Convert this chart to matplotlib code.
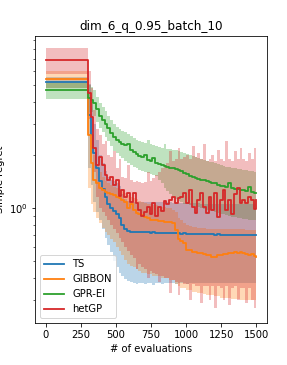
import matplotlib
matplotlib.use('Agg')
import matplotlib.pyplot as plt

# number of evaluations (initial design of 300, then batches)
evals = [0,
         300, 320, 340, 360, 380, 400, 420, 440, 460, 480,
         500, 520, 540, 560, 580, 600, 620, 640, 660, 680,
         700, 720, 740, 760, 780, 800, 820, 840, 860, 880,
         900, 920, 940, 960, 980, 1000, 1020, 1040, 1060, 1080,
         1100, 1120, 1140, 1160, 1180, 1200, 1220, 1240, 1260, 1280,
         1300, 1320, 1340, 1360, 1380, 1400, 1420, 1440, 1460, 1480,
         1500]

## TS
ts_mean = [5.2,
           3.4, 2.6, 2.05, 1.7, 1.42, 1.28, 1.15, 1.06, 1.0, 0.96,
           0.92, 0.88, 0.8, 0.76, 0.74, 0.73, 0.73, 0.73, 0.73, 0.73,
           0.73, 0.73, 0.725, 0.73, 0.725, 0.725, 0.725, 0.72, 0.725, 0.72,
           0.72, 0.72, 0.72, 0.715, 0.72, 0.715, 0.715, 0.715, 0.71, 0.715,
           0.71, 0.71, 0.71, 0.71, 0.71, 0.705, 0.71, 0.705, 0.705, 0.705,
           0.705, 0.705, 0.7, 0.705, 0.7, 0.7, 0.7, 0.7, 0.7, 0.7,
           0.7]
ts_lo = [4.8,
         1.7, 1.35, 1.08, 0.95, 0.85, 0.76, 0.68, 0.62, 0.56, 0.5,
         0.46, 0.43, 0.41, 0.395, 0.385, 0.38, 0.375, 0.37, 0.375, 0.375,
         0.37, 0.375, 0.375, 0.365, 0.375, 0.375, 0.37, 0.375, 0.375, 0.375,
         0.375, 0.37, 0.375, 0.375, 0.375, 0.37, 0.375, 0.375, 0.375, 0.375,
         0.375, 0.375, 0.375, 0.375, 0.375, 0.375, 0.375, 0.375, 0.375, 0.375,
         0.375, 0.375, 0.375, 0.375, 0.375, 0.375, 0.375, 0.375, 0.375, 0.375,
         0.375]
ts_hi = [5.6,
         5.1, 3.9, 3.0, 2.45, 2.0, 1.8, 1.62, 1.5, 1.44, 1.42,
         1.38, 1.33, 1.2, 1.13, 1.1, 1.08, 1.08, 1.08, 1.08, 1.08,
         1.08, 1.08, 1.08, 1.08, 1.08, 1.08, 1.08, 1.08, 1.08, 1.08,
         1.07, 1.07, 1.07, 1.07, 1.07, 1.07, 1.07, 1.07, 1.07, 1.07,
         1.06, 1.06, 1.06, 1.06, 1.06, 1.06, 1.06, 1.06, 1.06, 1.06,
         1.05, 1.05, 1.05, 1.05, 1.05, 1.05, 1.05, 1.05, 1.05, 1.05,
         1.05]

## GIBBON
gibbon_mean = [5.41,
               2.6, 1.8, 1.45, 1.38, 1.3, 1.27, 1.24, 1.22, 1.2, 1.18,
               1.16, 1.14, 1.11, 1.08, 1.0, 1.06, 0.97, 0.94, 0.93, 0.91,
               0.89, 0.88, 0.86, 0.855, 0.85, 0.845, 0.84, 0.835, 0.83, 0.83,
               0.82, 0.75, 0.67, 0.65, 0.63, 0.58, 0.58, 0.56, 0.56, 0.555,
               0.555, 0.55, 0.54, 0.54, 0.53, 0.53, 0.54, 0.54, 0.545, 0.55,
               0.555, 0.555, 0.56, 0.555, 0.56, 0.555, 0.55, 0.54, 0.545, 0.535,
               0.53]
gibbon_lo = [4.8,
             1.3, 1.05, 0.95, 0.88, 0.82, 0.77, 0.73, 0.7, 0.67, 0.64,
             0.6, 0.57, 0.54, 0.51, 0.48, 0.47, 0.46, 0.45, 0.44, 0.43,
             0.43, 0.42, 0.42, 0.41, 0.41, 0.41, 0.4, 0.4, 0.4, 0.39,
             0.39, 0.37, 0.36, 0.35, 0.35, 0.34, 0.34, 0.335, 0.335, 0.33,
             0.33, 0.325, 0.32, 0.32, 0.32, 0.315, 0.315, 0.31, 0.31, 0.31,
             0.31, 0.305, 0.305, 0.305, 0.3, 0.3, 0.3, 0.3, 0.3, 0.3,
             0.3]
gibbon_hi = [6.0,
             3.5, 2.6, 2.0, 1.75, 1.6, 1.5, 1.42, 1.38, 1.35, 1.32,
             1.3, 1.28, 1.25, 1.22, 1.18, 1.16, 1.14, 1.12, 1.1, 1.08,
             1.07, 1.06, 1.05, 1.04, 1.04, 1.03, 1.02, 1.02, 1.0, 1.0,
             0.98, 0.95, 0.88, 0.85, 0.82, 0.8, 0.79, 0.78, 0.78, 0.77,
             0.77, 0.77, 0.76, 0.76, 0.76, 0.76, 0.76, 0.76, 0.76, 0.76,
             0.76, 0.76, 0.76, 0.76, 0.76, 0.76, 0.75, 0.75, 0.75, 0.75,
             0.75]

## GPR-EI
gpr_mean = [4.68,
            4.2, 4.1, 3.95, 3.65, 3.35, 3.15, 3.0, 2.85, 2.67, 2.52,
            2.45, 2.37, 2.32, 2.27, 2.3, 2.15, 2.09, 2.04, 1.98, 1.95,
            2.0, 1.88, 1.86, 1.92, 1.8, 1.78, 1.76, 1.74, 1.71, 1.69,
            1.68, 1.66, 1.64, 1.62, 1.58, 1.56, 1.53, 1.51, 1.49, 1.47,
            1.45, 1.44, 1.42, 1.41, 1.39, 1.38, 1.36, 1.34, 1.33, 1.32,
            1.39, 1.3, 1.29, 1.28, 1.27, 1.26, 1.25, 1.32, 1.23, 1.22,
            1.22]
gpr_lo = [4.16,
          3.5, 3.5, 3.35, 3.1, 2.85, 2.7, 2.55, 2.4, 2.25, 2.12,
          2.05, 1.98, 1.92, 1.86, 1.8, 1.75, 1.72, 1.68, 1.65, 1.62,
          1.6, 1.58, 1.56, 1.54, 1.52, 1.45, 1.38, 1.3, 1.25, 1.2,
          1.16, 1.13, 1.1, 1.08, 1.06, 1.05, 1.04, 1.03, 1.02, 1.01,
          1.0, 0.99, 0.98, 0.97, 0.96, 0.95, 0.94, 0.93, 0.92, 0.91,
          0.9, 0.89, 0.89, 0.88, 0.88, 0.87, 0.87, 0.86, 0.86, 0.85,
          0.85]
gpr_hi = [5.13,
          5.0, 4.9, 4.7, 4.3, 3.95, 3.75, 3.55, 3.35, 3.15, 3.0,
          2.9, 2.82, 2.76, 2.7, 2.64, 2.56, 2.5, 2.45, 2.4, 2.38,
          2.35, 2.45, 2.3, 2.28, 2.25, 2.22, 2.2, 2.3, 2.18, 2.16,
          2.15, 2.13, 2.1, 2.08, 2.05, 2.02, 2.0, 1.98, 1.95, 1.93,
          1.9, 1.88, 1.86, 1.84, 1.82, 1.8, 1.78, 1.76, 1.74, 1.72,
          1.72, 1.7, 1.68, 1.67, 1.66, 1.65, 1.64, 1.63, 1.62, 1.61,
          1.6]

## hetGP
het_mean = [6.93,
            4.5, 3.3, 2.2, 1.75, 1.95, 1.75, 1.55, 1.45, 1.5, 1.35,
            1.44, 1.17, 1.27, 1.15, 1.22, 1.08, 1.22, 1.07, 0.97, 0.9,
            0.95, 1.01, 0.93, 1.07, 0.9, 1.01, 0.96, 1.1, 1.05, 1.11,
            1.15, 1.07, 1.14, 1.16, 1.22, 1.07, 1.27, 1.01, 0.94, 1.11,
            1.22, 1.01, 0.94, 1.16, 0.97, 1.22, 0.89, 1.11, 1.27, 0.97,
            1.11, 0.92, 1.2, 1.3, 1.07, 1.11, 1.07, 1.16, 1.11, 0.99,
            1.11]
het_lo = [5.75,
          3.2, 2.2, 1.6, 1.15, 1.0, 0.95, 0.9, 0.85, 0.8, 0.76,
          0.72, 0.68, 0.64, 0.6, 0.57, 0.54, 0.52, 0.45, 0.48, 0.46,
          0.45, 0.4, 0.44, 0.43, 0.42, 0.38, 0.41, 0.4, 0.4, 0.33,
          0.39, 0.38, 0.32, 0.38, 0.37, 0.37, 0.3, 0.37, 0.36, 0.36,
          0.29, 0.36, 0.36, 0.3, 0.36, 0.27, 0.36, 0.35, 0.3, 0.36,
          0.28, 0.35, 0.36, 0.3, 0.35, 0.35, 0.29, 0.35, 0.3, 0.27,
          0.35]
het_hi = [8.1,
          6.0, 4.8, 3.6, 2.8, 2.6, 2.3, 2.4, 2.0, 1.95, 2.1,
          1.7, 1.9, 1.5, 1.48, 1.75, 1.45, 1.4, 1.42, 1.4, 1.38,
          1.4, 1.6, 1.42, 1.48, 1.54, 1.6, 1.7, 1.75, 1.8, 2.1,
          1.85, 1.9, 2.2, 1.9, 1.95, 2.0, 1.9, 2.25, 1.95, 2.05,
          1.9, 2.3, 1.85, 1.9, 2.0, 1.85, 2.15, 1.9, 1.85, 2.4,
          1.9, 1.85, 2.1, 1.9, 2.2, 1.9, 1.85, 2.05, 1.9, 2.2,
          1.95]

names = ["TS", "GIBBON", "GPR-EI", "hetGP"]
colors = ["tab:blue", "tab:orange", "tab:green", "tab:red"]
means = [ts_mean, gibbon_mean, gpr_mean, het_mean]
lows = [ts_lo, gibbon_lo, gpr_lo, het_lo]
highs = [ts_hi, gibbon_hi, gpr_hi, het_hi]

## Plot
fig = plt.figure(figsize=(287 / 72, 365 / 72), dpi=72)
ax = fig.add_axes([0.122, 0.115, 0.808, 0.786])
for n, c, m, lo, hi in zip(names, colors, means, lows, highs):
    ax.plot(evals, m, drawstyle='steps-post', color=c, lw=1.8, label=n)
    ax.fill_between(evals, lo, hi, step='post', color=c, alpha=0.3, lw=0)

ax.set_yscale('log')
ax.set_ylim(0.222, 9.5)
ax.set_xlim(-75, 1575)
ax.set_xticks([0, 250, 500, 750, 1000, 1250, 1500])
ax.set_xlabel('# of evaluations')
# label sits partly past the left edge, as in the reference crop
ax.set_ylabel('Simple regret')
ax.set_title('dim_6_q_0.95_batch_10')
ax.legend(loc='lower left')

fig.savefig('out.png', dpi=72)
